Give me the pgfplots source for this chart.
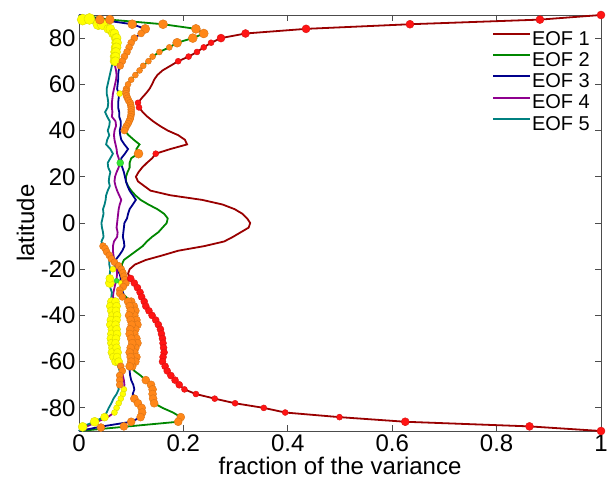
\documentclass[border=0pt]{standalone}
\usepackage{pgfplots}
\usepackage{pgfplotstable}
\pgfplotsset{compat=1.18}
\usepackage{fontspec}
\setmainfont{Liberation Sans}

\definecolor{c1}{rgb}{0.6,0,0}
\definecolor{c2}{rgb}{0,0.53,0}
\definecolor{c3}{rgb}{0,0,0.55}
\definecolor{c4}{rgb}{0.56,0,0.56}
\definecolor{c5}{rgb}{0,0.5,0.5}
\definecolor{mred}{rgb}{1,0.08,0.08}
\definecolor{morange}{rgb}{1,0.53,0.1}
\definecolor{myellow}{rgb}{1,1,0}
\definecolor{mgreen}{rgb}{0.2,0.9,0.2}

\pgfplotstableread{
lat e1 e2 e3 e4 e5
90 1.000 0.000 0.000 0.000 0.000
88 0.883 0.059 0.040 0.020 0.007
86 0.634 0.161 0.102 0.045 0.037
84 0.435 0.224 0.127 0.060 0.056
82 0.319 0.239 0.119 0.068 0.065
80 0.272 0.218 0.106 0.072 0.070
78 0.253 0.188 0.100 0.073 0.070
76 0.239 0.173 0.096 0.072 0.068
74 0.226 0.154 0.092 0.071 0.068
72 0.210 0.141 0.087 0.070 0.068
70 0.190 0.133 0.083 0.070 0.066
68 0.175 0.123 0.079 0.069 0.063
66 0.160 0.116 0.076 0.071 0.061
64 0.150 0.108 0.075 0.072 0.059
62 0.144 0.100 0.075 0.071 0.057
60 0.140 0.094 0.074 0.069 0.055
58 0.135 0.091 0.073 0.067 0.053
56 0.128 0.090 0.076 0.065 0.053
54 0.120 0.093 0.076 0.064 0.055
52 0.113 0.098 0.075 0.063 0.056
50 0.115 0.100 0.075 0.063 0.055
48 0.122 0.100 0.077 0.064 0.050
46 0.131 0.099 0.077 0.063 0.054
44 0.142 0.096 0.080 0.070 0.059
42 0.155 0.091 0.080 0.071 0.058
40 0.170 0.087 0.078 0.068 0.055
38 0.190 0.095 0.079 0.067 0.058
36 0.203 0.105 0.081 0.068 0.054
34 0.207 0.116 0.087 0.070 0.052
32 0.175 0.110 0.094 0.072 0.060
30 0.147 0.113 0.088 0.073 0.065
28 0.140 0.100 0.081 0.076 0.060
26 0.130 0.097 0.080 0.078 0.055
24 0.121 0.097 0.083 0.076 0.056
22 0.114 0.093 0.086 0.072 0.060
20 0.109 0.090 0.088 0.069 0.058
18 0.113 0.090 0.090 0.068 0.057
16 0.125 0.094 0.093 0.070 0.059
14 0.137 0.100 0.097 0.073 0.055
12 0.175 0.108 0.103 0.077 0.052
10 0.236 0.118 0.109 0.081 0.051
8 0.275 0.133 0.103 0.078 0.049
6 0.298 0.150 0.097 0.076 0.046
4 0.313 0.163 0.094 0.075 0.047
2 0.322 0.170 0.092 0.074 0.045
0 0.328 0.168 0.087 0.073 0.043
-2 0.325 0.160 0.086 0.072 0.044
-4 0.310 0.152 0.085 0.074 0.046
-6 0.295 0.140 0.084 0.073 0.047
-8 0.278 0.130 0.086 0.067 0.043
-10 0.240 0.122 0.087 0.065 0.046
-12 0.190 0.110 0.083 0.065 0.052
-14 0.160 0.098 0.077 0.066 0.056
-16 0.128 0.086 0.070 0.068 0.058
-18 0.107 0.082 0.068 0.072 0.058
-20 0.097 0.084 0.072 0.072 0.060
-22 0.094 0.086 0.078 0.073 0.059
-24 0.099 0.088 0.080 0.072 0.059
-26 0.106 0.090 0.078 0.070 0.058
-28 0.112 0.084 0.082 0.068 0.060
-30 0.117 0.082 0.084 0.066 0.063
-32 0.120 0.090 0.087 0.065 0.062
-34 0.125 0.100 0.094 0.070 0.062
-36 0.128 0.105 0.097 0.072 0.060
-38 0.134 0.108 0.099 0.071 0.062
-40 0.140 0.106 0.096 0.073 0.064
-42 0.147 0.110 0.099 0.072 0.061
-44 0.152 0.112 0.101 0.070 0.060
-46 0.156 0.108 0.098 0.072 0.063
-48 0.158 0.106 0.097 0.073 0.062
-50 0.160 0.110 0.100 0.071 0.061
-52 0.161 0.112 0.102 0.070 0.062
-54 0.162 0.108 0.099 0.072 0.064
-56 0.163 0.106 0.097 0.074 0.063
-58 0.161 0.110 0.099 0.073 0.066
-60 0.160 0.108 0.100 0.076 0.070
-62 0.165 0.102 0.097 0.080 0.075
-64 0.169 0.106 0.097 0.083 0.078
-66 0.176 0.118 0.098 0.084 0.078
-68 0.184 0.128 0.100 0.086 0.077
-70 0.192 0.138 0.104 0.087 0.075
-72 0.202 0.141 0.106 0.086 0.076
-74 0.224 0.141 0.103 0.084 0.072
-76 0.260 0.142 0.106 0.080 0.066
-78 0.299 0.144 0.113 0.076 0.062
-80 0.354 0.160 0.120 0.072 0.057
-82 0.395 0.180 0.121 0.068 0.053
-84 0.499 0.195 0.118 0.055 0.047
-86 0.625 0.190 0.100 0.035 0.030
-88 0.863 0.095 0.045 0.015 0.007
-90 1.000 0.000 0.000 0.000 0.000
}\eof

\begin{document}
\begin{tikzpicture}
\begin{axis}[
  scale only axis, width=522pt, height=416pt,
  xmin=0, xmax=1, ymin=-90, ymax=90,
  xtick={0,0.2,0.4,0.6,0.8,1}, ytick={-80,-60,-40,-20,0,20,40,60,80},
  tick align=inside, major tick length=6pt,
  tick style={black!70, line width=0.8pt},
  axis line style={black!70, line width=0.8pt},
  clip=false,
  /pgf/number format/assume math mode=true,
  ticklabel style={font=\fontsize{24}{28}\selectfont},
  label style={font=\fontsize{24}{28}\selectfont},
  xlabel={fraction of the variance}, ylabel={latitude},
  xlabel style={at={(axis description cs:0.5,0)}, anchor=base, inner sep=0pt, yshift=-43pt},
  ylabel style={at={(axis description cs:-0.0862,0.5)}, anchor=base, inner sep=0pt},
  legend style={at={(rel axis cs:1,1)}, anchor=north east, xshift=-7pt, yshift=-13pt,
    draw=none, fill=none,
    font=\fontsize{20}{24}\selectfont, row sep=0pt,
    nodes={inner sep=1pt, text height=14.5pt, text depth=4.6pt}},
  legend cell align=left,
  legend image code/.code={\draw[#1, line width=2pt] (6pt,6.5pt) -- (43pt,6.5pt);},
  every axis plot/.append style={line width=1.8pt},
]
\addplot[c1, no marks] table[x=e1, y=lat] {\eof};
\addplot[c2, no marks] table[x=e2, y=lat] {\eof};
\addplot[c3, no marks] table[x=e3, y=lat] {\eof};
\addplot[c4, no marks] table[x=e4, y=lat] {\eof};
\addplot[c5, no marks] table[x=e5, y=lat] {\eof};
\legend{EOF 1, EOF 2, EOF 3, EOF 4, EOF 5}

% ---- yellow markers
\addplot[forget plot, only marks, mark=*, mark size=5.5pt, mark options={fill=myellow, draw=myellow!85!black, line width=0.4pt}]
 coordinates {(0.007,88) (0.020,88.3) (0.037,86) (0.045,86)};
\addplot[forget plot, only marks, mark=*, mark size=4.5pt, mark options={fill=myellow, draw=myellow!85!black, line width=0.4pt}]
 coordinates {(0.056,84) (0.060,84) (0.065,82) (0.068,82) (0.070,80) (0.072,80) (0.071,78) (0.073,78) (0.070,76) (0.072,76)
 (0.069,74) (0.071,74) (0.068,72) (0.070,72) (0.068,70) (0.070,70)
 (0.059,-26) (0.030,-86) (0.007,-88.2)};
\addplot[forget plot, only marks, mark=*, mark size=4pt, mark options={fill=myellow, draw=myellow!85!black, line width=0.4pt}]
 coordinates {(0.059,-24) (0.049,-84)
 (0.062,-34) (0.060,-36) (0.062,-38) (0.064,-40) (0.061,-42) (0.060,-44) (0.063,-46) (0.062,-48) (0.061,-50) (0.062,-52) (0.064,-54) (0.063,-56) (0.066,-58) (0.070,-60)
 (0.070,-34) (0.072,-36) (0.071,-38) (0.073,-40) (0.072,-42) (0.070,-44) (0.072,-46) (0.073,-48) (0.071,-50) (0.070,-52) (0.072,-54) (0.074,-56) (0.073,-58) (0.076,-60)};
\addplot[forget plot, only marks, mark=*, mark size=3pt, mark options={fill=myellow, draw=myellow!85!black, line width=0.4pt}]
 coordinates {(0.078,56) (0.065,-20) (0.081,-26) (0.084,-28)
 (0.086,-72) (0.084,-74) (0.080,-76) (0.076,-78) (0.072,-80) (0.068,-82)};

% ---- orange markers
\addplot[forget plot, only marks, mark=*, mark size=4.5pt, mark options={fill=morange, draw=morange!85!black, line width=0.4pt}]
 coordinates {(0.059,88) (0.161,86) (0.224,84) (0.239,82) (0.218,80) (0.188,78)
 (0.040,88) (0.102,86) (0.127,84) (0.114,30)};
\addplot[forget plot, only marks, mark=*, mark size=3.5pt, mark options={fill=morange, draw=morange!85!black, line width=0.4pt}]
 coordinates {(0.119,82) (0.106,80) (0.100,78) (0.096,76) (0.092,74) (0.087,72) (0.083,70) (0.079,68)
 (0.091,58) (0.090,57) (0.090,56) (0.091,55) (0.093,54) (0.095,53) (0.098,52) (0.099,51) (0.100,50) (0.100,49)
 (0.100,48) (0.100,47) (0.099,46) (0.098,45) (0.096,44) (0.094,43) (0.091,42) (0.089,41) (0.087,40)
 (0.046,-10) (0.050,-11) (0.053,-12.5) (0.058,-14) (0.062,-15.5) (0.068,-17) (0.076,-18.5) (0.081,-20)
 (0.084,-21.5) (0.086,-23) (0.088,-24.5) (0.090,-26) (0.085,-27.5) (0.078,-29) (0.078,-30.5) (0.083,-32)
 (0.080,-62) (0.083,-64) (0.078,-66) (0.078,-68) (0.078,-70)};
\addplot[forget plot, only marks, mark=*, mark size=3pt, mark options={fill=morange, draw=morange!85!black, line width=0.4pt}]
 coordinates {(0.173,76) (0.154,74) (0.141,72) (0.133,70) (0.123,68) (0.116,66) (0.108,64) (0.100,62) (0.094,60)};
\addplot[forget plot, only marks, mark=*, mark size=4pt, mark options={fill=morange, draw=morange!85!black, line width=0.4pt}]
 coordinates {(0.100,-34) (0.105,-36) (0.108,-38) (0.106,-40) (0.110,-42) (0.112,-44) (0.108,-46) (0.106,-48) (0.110,-50) (0.112,-52)
 (0.108,-54) (0.106,-56) (0.110,-58) (0.108,-60) (0.102,-62)
 (0.094,-34) (0.097,-36) (0.099,-38) (0.096,-40) (0.099,-42) (0.101,-44) (0.098,-46) (0.097,-48) (0.100,-50) (0.102,-52)
 (0.099,-54) (0.097,-56) (0.099,-58) (0.100,-60) (0.097,-62)
 (0.128,-68) (0.138,-70) (0.141,-72) (0.141,-74) (0.142,-76) (0.144,-78) (0.195,-84) (0.190,-86) (0.086,-88)
 (0.106,-76) (0.113,-78) (0.120,-80) (0.121,-82) (0.118,-84) (0.100,-86) (0.042,-88.5)};

% ---- red markers
\addplot[forget plot, only marks, mark=*, mark size=4pt, mark options={fill=mred, draw=mred!85!black, line width=0.4pt}]
 coordinates {(1,90) (0.883,88) (0.634,86) (0.435,84) (0.319,82) (0.272,80) (0.625,-86) (0.863,-88) (1,-90)};
\addplot[forget plot, only marks, mark=*, mark size=3pt, mark options={fill=mred, draw=mred!85!black, line width=0.4pt}]
 coordinates {(0.253,78) (0.239,76) (0.226,74) (0.210,72) (0.190,70) (0.113,52) (0.115,50) (0.147,30)
 (0.202,-72) (0.224,-74) (0.260,-76) (0.299,-78) (0.354,-80) (0.395,-82) (0.499,-84)};
\addplot[forget plot, only marks, mark=*, mark size=3.5pt, mark options={fill=mred, draw=mred!85!black, line width=0.4pt}]
 coordinates {(0.099,-24) (0.106,-26) (0.112,-28) (0.117,-30) (0.120,-32) (0.125,-34) (0.128,-36) (0.134,-38)
 (0.140,-40) (0.147,-42) (0.152,-44) (0.156,-46) (0.158,-48) (0.160,-50) (0.161,-52) (0.162,-54) (0.163,-56)
 (0.161,-58) (0.160,-60) (0.165,-62) (0.169,-64) (0.176,-66) (0.184,-68) (0.192,-70)};

% ---- green markers
\addplot[forget plot, only marks, mark=*, mark size=3.5pt, mark options={fill=mgreen, draw=mgreen!85!black, line width=0.4pt}]
 coordinates {(0.079,26)};
\addplot[forget plot, only marks, mark=*, mark size=2.5pt, mark options={fill=mgreen, draw=mgreen!85!black, line width=0.4pt}]
 coordinates {(0.072,-25)};
\end{axis}
\pgfresetboundingbox
\path (current axis.south west) ++(-79pt,-53pt) rectangle ++(609pt,484pt);
\end{tikzpicture}
\end{document}
